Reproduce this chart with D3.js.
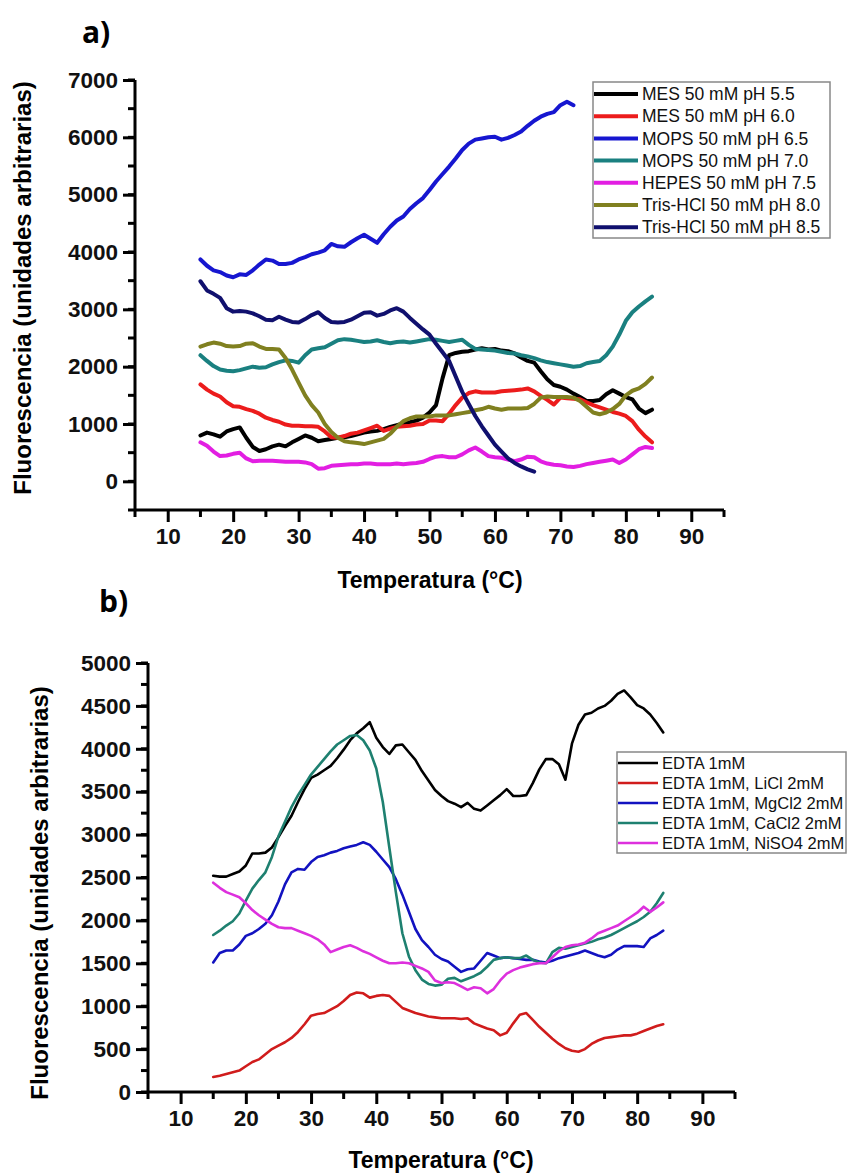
<!DOCTYPE html>
<html>
<head>
<meta charset="utf-8">
<script src="https://d3js.org/d3.v7.min.js"></script>
<style>
  body { margin: 0; background: #fff; }
  text { font-family: "Liberation Sans", Arial, sans-serif; }
</style>
</head>
<body>
<svg id="fig" width="847" height="1173"></svg>
<script>
// temperature grid (°C), one reading per degree starting at 15
var temps = d3.range(15, 85);

// panel a) buffers
var mes55   = [800,850,820,780,870,910,940,760,600,530,560,610,640,610,680,740,800,760,700,720,740,760,770,790,820,850,870,880,910,950,980,1010,1030,1060,1110,1200,1330,1800,2200,2240,2260,2270,2300,2320,2300,2310,2280,2270,2230,2160,2100,2070,1920,1780,1680,1650,1600,1530,1470,1400,1400,1420,1520,1590,1530,1470,1430,1270,1190,1250];
var mes60   = [1690,1600,1530,1480,1380,1310,1300,1260,1230,1180,1110,1070,1040,990,970,970,960,960,950,870,770,760,790,830,850,890,930,970,880,920,950,960,970,990,1000,1060,1060,1050,1180,1330,1460,1540,1570,1550,1550,1550,1570,1580,1590,1600,1620,1570,1490,1420,1340,1460,1450,1440,1430,1380,1330,1290,1250,1210,1180,1140,1050,900,780,680];
var mops65  = [3870,3760,3680,3650,3590,3560,3610,3600,3680,3780,3870,3850,3790,3790,3810,3870,3910,3960,3990,4030,4140,4100,4090,4170,4240,4300,4230,4160,4310,4440,4550,4620,4750,4850,4940,5080,5230,5360,5490,5630,5780,5890,5960,5980,6000,6010,5960,5990,6040,6100,6200,6290,6360,6410,6440,6560,6620,6560];
var mops70  = [2200,2100,2010,1950,1930,1920,1940,1970,2000,1980,1990,2040,2080,2110,2100,2070,2200,2300,2320,2340,2400,2460,2480,2470,2450,2430,2440,2460,2430,2410,2430,2440,2420,2440,2460,2480,2470,2450,2430,2450,2470,2380,2310,2300,2290,2280,2260,2240,2230,2200,2180,2150,2110,2080,2060,2040,2020,2000,2010,2060,2080,2100,2200,2350,2560,2800,2950,3050,3140,3220];
var hepes75 = [680,620,520,440,450,480,500,400,350,360,360,360,350,340,340,340,330,300,220,230,270,280,290,300,300,310,310,300,300,300,310,300,310,320,340,390,430,440,420,420,470,540,590,520,440,420,410,380,350,380,430,420,350,310,290,280,260,250,270,300,320,340,360,380,320,380,470,560,600,580];
var tris80  = [2350,2390,2420,2400,2360,2350,2360,2400,2410,2350,2310,2310,2300,2150,1950,1720,1500,1330,1200,1000,860,760,700,680,670,650,680,710,740,830,950,1050,1100,1130,1130,1130,1150,1150,1150,1170,1190,1210,1240,1260,1300,1270,1250,1270,1270,1270,1280,1350,1460,1480,1470,1470,1470,1460,1400,1300,1200,1170,1200,1260,1350,1500,1580,1620,1700,1810];
var tris85  = [3490,3330,3270,3200,3020,2960,2970,2960,2930,2880,2820,2810,2870,2820,2780,2770,2830,2900,2950,2850,2780,2770,2780,2820,2880,2940,2950,2890,2920,2980,3020,2960,2850,2750,2650,2560,2400,2250,2100,1830,1560,1350,1140,960,800,640,520,400,320,260,210,170];

// panel b) EDTA with salts
var edta    = [2520,2510,2510,2540,2570,2640,2780,2780,2790,2850,2970,3100,3220,3380,3530,3660,3700,3750,3800,3890,3990,4100,4180,4240,4310,4130,4020,3940,4040,4050,3960,3870,3740,3630,3520,3450,3390,3360,3320,3370,3300,3280,3340,3400,3460,3530,3450,3450,3460,3600,3760,3880,3880,3820,3640,4060,4280,4400,4420,4470,4500,4560,4640,4680,4600,4510,4470,4400,4300,4190];
var edtaLi  = [175,190,210,230,250,300,350,380,440,500,540,580,630,700,790,890,910,920,960,1000,1060,1130,1160,1150,1100,1120,1130,1120,1050,980,950,920,900,880,870,860,860,860,850,860,800,770,740,720,660,690,800,900,920,840,760,690,620,560,510,480,470,500,560,600,630,640,650,660,660,680,710,740,770,790];
var edtaMg  = [1510,1620,1650,1650,1720,1820,1850,1900,1960,2060,2220,2420,2560,2600,2590,2680,2740,2760,2790,2810,2840,2860,2880,2910,2880,2800,2710,2620,2480,2300,2100,1900,1770,1690,1600,1550,1520,1460,1400,1430,1440,1530,1620,1590,1560,1570,1560,1550,1540,1540,1520,1510,1530,1560,1580,1600,1620,1650,1620,1590,1570,1600,1660,1700,1700,1700,1690,1790,1830,1880];
var edtaCa  = [1830,1880,1940,1990,2080,2230,2370,2470,2560,2740,2980,3150,3320,3460,3580,3700,3790,3880,3970,4050,4100,4150,4160,4100,3980,3770,3380,2850,2330,1850,1580,1420,1310,1260,1240,1250,1320,1330,1290,1320,1350,1390,1460,1540,1560,1570,1560,1560,1590,1540,1510,1500,1630,1680,1670,1690,1710,1730,1750,1780,1800,1830,1870,1910,1950,1990,2040,2100,2200,2320];
var edtaNi  = [2440,2380,2330,2300,2270,2200,2120,2060,2010,1960,1920,1910,1910,1880,1850,1820,1780,1720,1630,1660,1690,1710,1680,1640,1610,1570,1530,1500,1500,1510,1500,1470,1440,1400,1300,1270,1280,1270,1230,1190,1220,1210,1150,1200,1300,1380,1420,1450,1470,1490,1500,1500,1570,1640,1690,1710,1720,1740,1790,1850,1880,1910,1940,1990,2040,2090,2160,2100,2150,2210];

var xTicks = [10, 20, 30, 40, 50, 60, 70, 80, 90];
var yTicksA = [0, 1000, 2000, 3000, 4000, 5000, 6000, 7000];
var yTicksB = [0, 500, 1000, 1500, 2000, 2500, 3000, 3500, 4000, 4500, 5000];

var namesA = ["MES 50 mM pH 5.5", "MES 50 mM pH 6.0", "MOPS 50 mM pH 6.5", "MOPS 50 mM pH 7.0",
              "HEPES 50 mM pH 7.5", "Tris-HCl 50 mM pH 8.0", "Tris-HCl 50 mM pH 8.5"];
var colorsA = ["#000000", "#ec1c1c", "#1616d0", "#1a8080", "#e21ee2", "#808020", "#10106e"];
var seriesA = [mes55, mes60, mops65, mops70, hepes75, tris80, tris85];

var namesB = ["EDTA 1mM", "EDTA 1mM, LiCl 2mM", "EDTA 1mM, MgCl2 2mM", "EDTA 1mM, CaCl2 2mM", "EDTA 1mM, NiSO4 2mM"];
var colorsB = ["#000000", "#d01c1c", "#1212c0", "#1e8070", "#dd30dd"];
var seriesB = [edta, edtaLi, edtaMg, edtaCa, edtaNi];

var svg = d3.select("#fig");

function panel(cfg) {
  var x = d3.scaleLinear().domain([5, 95]).range([cfg.left, cfg.right]);
  var y = d3.scaleLinear().domain(cfg.yDomain).range([cfg.bottom, cfg.top]);
  var g = svg.append("g");

  // curves
  var line = d3.line()
      .x(function(d) { return x(d[0]); })
      .y(function(d) { return y(d[1]); });
  cfg.series.forEach(function(vals, i) {
    var pts = vals.map(function(v, j) { return [temps[j], v]; });
    g.append("path")
        .datum(pts)
        .attr("d", line)
        .attr("fill", "none")
        .attr("stroke", cfg.colors[i])
        .attr("stroke-width", cfg.lw)
        .attr("stroke-linejoin", "round")
        .attr("stroke-linecap", "round");
  });

  // minor ticks
  var xMinor = d3.range(5, 96, 10);
  var yMinor = d3.range(cfg.yDomain[0], cfg.yDomain[1] + 1, cfg.yMinorStep);

  var xAxis = g.append("g").attr("transform", "translate(0," + cfg.bottom + ")");
  xAxis.call(d3.axisBottom(x).tickValues(xTicks).tickSize(12).tickPadding(6).tickFormat(d3.format("d")));
  xAxis.selectAll(".minor").data(xMinor).enter().append("line")
      .attr("x1", function(d) { return x(d); }).attr("x2", function(d) { return x(d); })
      .attr("y1", 0).attr("y2", 7).attr("stroke", "#000").attr("stroke-width", 3);

  var yAxis = g.append("g").attr("transform", "translate(" + cfg.left + ",0)");
  yAxis.call(d3.axisLeft(y).tickValues(cfg.yTicks).tickSize(12).tickPadding(5).tickFormat(d3.format("d")));
  yAxis.selectAll(".minor").data(yMinor).enter().append("line")
      .attr("y1", function(d) { return y(d); }).attr("y2", function(d) { return y(d); })
      .attr("x1", 0).attr("x2", -7).attr("stroke", "#000").attr("stroke-width", 3);

  [xAxis, yAxis].forEach(function(a) {
    a.select(".domain").attr("stroke-width", 3).attr("d",
      a === xAxis ? "M" + cfg.left + ",0H" + cfg.right : "M0," + cfg.bottom + "V" + cfg.top);
    a.selectAll(".tick line").attr("stroke-width", 3);
    a.selectAll(".tick text").attr("font-size", 22.5).attr("font-weight", "bold").attr("fill", "#111");
  });

  // titles
  g.append("text")
      .attr("x", cfg.xTitleX).attr("y", cfg.xTitleY)
      .attr("text-anchor", "middle").attr("font-size", 23).attr("font-weight", "bold")
      .text("Temperatura (\u00B0C)");
  g.append("text")
      .attr("transform", "translate(" + cfg.yTitleX + "," + cfg.yTitleY + ") rotate(-90)")
      .attr("text-anchor", "middle").attr("font-size", 24).attr("font-weight", "bold")
      .text("Fluorescencia (unidades arbitrarias)");
  g.append("text")
      .attr("x", cfg.tagX).attr("y", cfg.tagY)
      .attr("font-size", 30).attr("font-weight", "bold")
      .style("font-family", "'Open Sans', sans-serif")
      .text(cfg.tag);

  // legend
  var L = cfg.legend;
  var leg = g.append("g");
  leg.append("rect")
      .attr("x", L.x).attr("y", L.y).attr("width", L.w).attr("height", L.h)
      .attr("fill", "#fff").attr("stroke", "#888").attr("stroke-width", 1.5);
  cfg.names.forEach(function(n, i) {
    var cy = L.y + L.first + i * L.step;
    leg.append("line")
        .attr("x1", L.x + 1).attr("x2", L.x + L.lineLen)
        .attr("y1", cy).attr("y2", cy)
        .attr("stroke", cfg.colors[i]).attr("stroke-width", cfg.lw);
    leg.append("text")
        .attr("x", L.x + L.lineLen + 4).attr("y", cy)
        .attr("dy", "0.35em").attr("font-size", L.fs).attr("fill", "#111")
        .text(n);
  });
}

panel({
  left: 135, right: 724, top: 80, bottom: 510,
  yDomain: [-500, 7000], yTicks: yTicksA, yMinorStep: 500,
  series: seriesA, colors: colorsA, names: namesA, lw: 4,
  xTitleX: 430, xTitleY: 588, yTitleX: 31, yTitleY: 288,
  tag: "a)", tagX: 82, tagY: 43,
  legend: { x: 593, y: 82, w: 237, h: 156, first: 12, step: 22.2, lineLen: 45, fs: 17.5 }
});

panel({
  left: 148, right: 735, top: 663, bottom: 1092,
  yDomain: [0, 5000], yTicks: yTicksB, yMinorStep: 250,
  series: seriesB, colors: colorsB, names: namesB, lw: 2.6,
  xTitleX: 441, xTitleY: 1168, yTitleX: 48, yTitleY: 893,
  tag: "b)", tagX: 99, tagY: 612,
  legend: { x: 617, y: 752, w: 229, h: 101, first: 11, step: 20, lineLen: 41, fs: 16.5 }
});
</script>
</body>
</html>
